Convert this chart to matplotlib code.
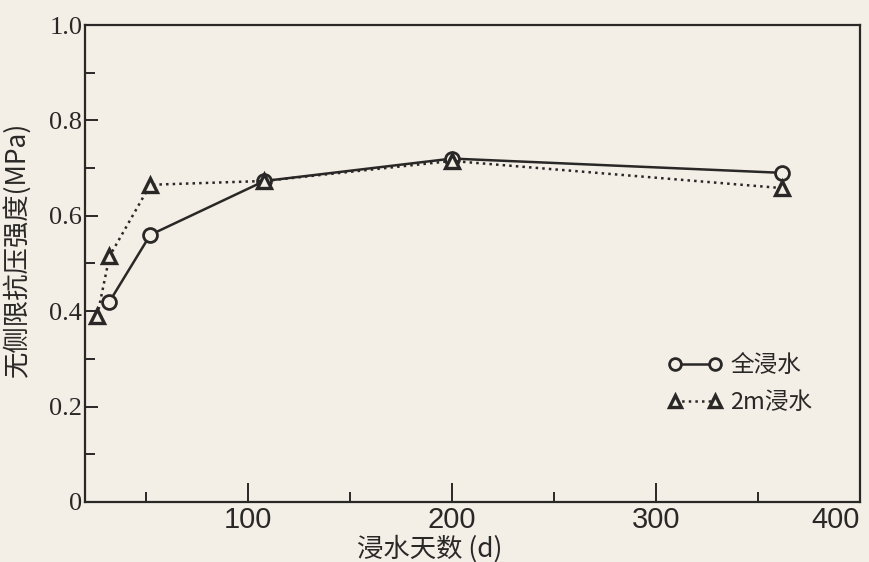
import matplotlib as mpl
mpl.use("Agg")
import matplotlib.pyplot as plt
from matplotlib.ticker import MultipleLocator, FixedLocator

plt.rcParams["font.family"] = ["Noto Sans CJK SC", "DejaVu Sans"]

# data
days_full = [32, 52, 108, 200, 362]
ucs_full = [0.42, 0.56, 0.673, 0.72, 0.69]
days_2m = [26, 32, 52, 108, 200, 362]
ucs_2m = [0.39, 0.515, 0.665, 0.673, 0.715, 0.658]
x_ticks = [100, 200, 300, 400]
y_ticks = [0, 0.2, 0.4, 0.6, 0.8, 1.0]
y_labels = ["0", "0.2", "0.4", "0.6", "0.8", "1.0"]

PAPER = "#f3efe7"
INK = "#2a2826"

fig = plt.figure(figsize=(8.7, 5.62), dpi=100, facecolor=PAPER)
ax = fig.add_axes([0.0977, 0.1068, 0.8908, 0.8487], facecolor=PAPER)

ax.plot(days_full, ucs_full, "-o", color=INK, lw=1.8, ms=10, mfc=PAPER,
        mec=INK, mew=2.0, label="全浸水", zorder=3)
ax.plot(days_2m, ucs_2m, ":^", color=INK, lw=1.8, ms=10.5, mfc=PAPER,
        mec=INK, mew=2.4, label="2m浸水", zorder=4)

ax.set_xlim(20, 400)
ax.set_ylim(0, 1.0)
ax.xaxis.set_major_locator(FixedLocator(x_ticks))
ax.xaxis.set_minor_locator(MultipleLocator(50))
ax.set_yticks(y_ticks)
ax.set_yticklabels(y_labels)
ax.yaxis.set_minor_locator(MultipleLocator(0.1))
ax.tick_params(axis="x", which="major", direction="in", length=14, width=1.4,
               color=INK, labelsize=21, pad=3, labelcolor=INK)
ax.tick_params(axis="x", which="minor", direction="in", length=7, width=1.4, color=INK)
ax.tick_params(axis="y", which="major", direction="in", length=9, width=1.4,
               color=INK, labelsize=19, pad=2, labelcolor=INK)
ax.tick_params(axis="y", which="minor", direction="in", length=7, width=1.4, color=INK)
for lab in ax.get_xticklabels():
    lab.set_family(["Liberation Sans Narrow", "Liberation Sans"])
ax.get_xticklabels()[-1].set_horizontalalignment("right")
for lab in ax.get_yticklabels():
    lab.set_family(["Liberation Serif"])
for sp in ax.spines.values():
    sp.set_linewidth(1.6)
    sp.set_color(INK)

ax.set_xlabel("浸水天数 (d)", fontsize=19, color=INK, labelpad=-2)
ax.xaxis.set_label_coords(0.445, -0.07)
ax.set_ylabel("无侧限抗压强度(MPa)", fontsize=19, color=INK, labelpad=0)
ax.yaxis.set_label_coords(-0.07, 0.53)

leg = ax.legend(loc="upper left", bbox_to_anchor=(0.752, 0.31), numpoints=2,
                frameon=False, fontsize=17, handlelength=2.3, handletextpad=0.35,
                labelspacing=0.6, borderpad=0, borderaxespad=0, markerscale=0.85)
for t in leg.get_texts():
    t.set_color(INK)

fig.savefig("out.png", dpi=100, facecolor=PAPER)
